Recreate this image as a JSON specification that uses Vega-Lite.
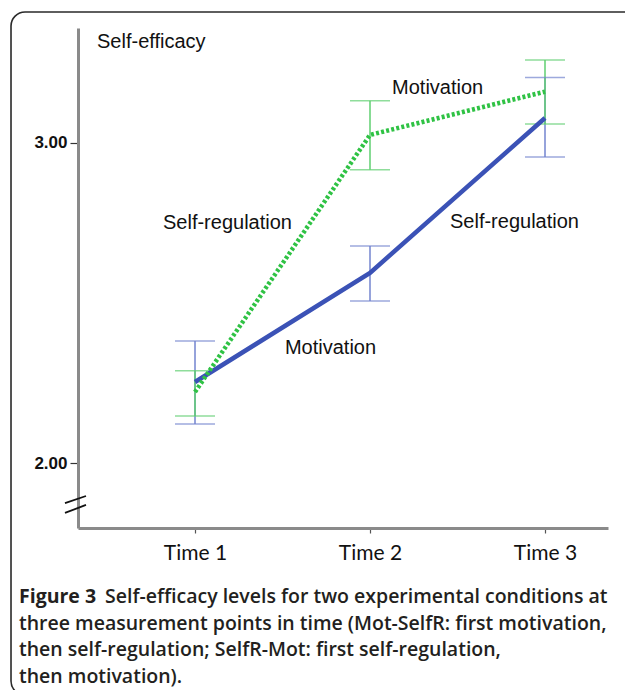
{
  "$schema": "https://vega.github.io/schema/vega-lite/v6.json",
  "width": 530,
  "height": 500,
  "autosize": {"type": "none"},
  "padding": {"left": 78, "top": 28, "right": 17, "bottom": 162},
  "background": "white",
  "config": {"view": {"stroke": null}, "font": "Liberation Sans"},
  "datasets": {
    "means": [
      {"group": "Mot-SelfR", "time": 1, "mean": 2.253, "lo": 2.122, "hi": 2.381},
      {"group": "Mot-SelfR", "time": 2, "mean": 2.594, "lo": 2.506, "hi": 2.678},
      {"group": "Mot-SelfR", "time": 3, "mean": 3.078, "lo": 2.956, "hi": 3.204},
      {"group": "SelfR-Mot", "time": 1, "mean": 2.222, "lo": 2.147, "hi": 2.288},
      {"group": "SelfR-Mot", "time": 2, "mean": 3.025, "lo": 2.916, "hi": 3.132},
      {"group": "SelfR-Mot", "time": 3, "mean": 3.16, "lo": 3.059, "hi": 3.259}
    ],
    "labels": [
      {"label": "Motivation", "time": 2.126, "value": 3.153},
      {"label": "Self-regulation", "time": 2.457, "value": 2.734},
      {"label": "Self-regulation", "time": 0.817, "value": 2.731},
      {"label": "Motivation", "time": 1.514, "value": 2.341},
      {"label": "Self-efficacy", "time": 0.44, "value": 3.297}
    ],
    "one": [{}]
  },
  "layer": [
    {
      "data": {"name": "one"},
      "mark": {"type": "rect", "filled": false, "stroke": "#2a2a2a", "strokeWidth": 1.6, "cornerRadius": 14, "clip": false},
      "encoding": {
        "x": {"datum": -0.0514, "type": "quantitative"},
        "x2": {"datum": 3.62},
        "y": {"datum": 3.409, "type": "quantitative"},
        "y2": {"datum": 1.275}
      }
    },
    {
      "data": {"name": "means"},
      "mark": {"type": "rule", "strokeWidth": 1.5},
      "encoding": {
        "x": {"field": "time", "type": "quantitative",
          "scale": {"domain": [0.3314, 3.36], "nice": false, "zero": false},
          "axis": {"values": [1, 2, 3], "labelExpr": "'Time ' + datum.value", "title": null, "grid": false,
            "domainColor": "#8a8a8a", "domainWidth": 3, "tickColor": "#555", "tickSize": 5, "tickWidth": 1.2,
            "labelFont": "Lato", "labelFontSize": 21, "labelColor": "#111", "labelPadding": 9, "labelBaseline": "top", "labelFlush": false}},
        "y": {"field": "lo", "type": "quantitative",
          "scale": {"domain": [1.797, 3.359], "nice": false, "zero": false},
          "axis": {"values": [2, 3], "format": ".2f", "title": null, "grid": false,
            "domainColor": "#8a8a8a", "domainWidth": 3, "tickColor": "#333", "tickSize": 8, "tickWidth": 1.2,
            "labelFont": "Liberation Sans", "labelFontSize": 17, "labelFontWeight": "bold", "labelColor": "#111", "labelPadding": 3}},
        "y2": {"field": "hi"},
        "color": {"field": "group", "type": "nominal", "legend": null,
          "scale": {"domain": ["Mot-SelfR", "SelfR-Mot"], "range": ["#7384cf", "#5fcf70"]}}
      }
    },
    {
      "data": {"name": "means"},
      "mark": {"type": "tick", "orient": "horizontal", "size": 40, "thickness": 1.5},
      "encoding": {
        "x": {"field": "time", "type": "quantitative"},
        "y": {"field": "lo", "type": "quantitative"},
        "color": {"field": "group", "type": "nominal", "legend": null,
          "scale": {"domain": ["Mot-SelfR", "SelfR-Mot"], "range": ["#7384cf", "#5fcf70"]}}
      }
    },
    {
      "data": {"name": "means"},
      "mark": {"type": "tick", "orient": "horizontal", "size": 40, "thickness": 1.5},
      "encoding": {
        "x": {"field": "time", "type": "quantitative"},
        "y": {"field": "hi", "type": "quantitative"},
        "color": {"field": "group", "type": "nominal", "legend": null,
          "scale": {"domain": ["Mot-SelfR", "SelfR-Mot"], "range": ["#7384cf", "#5fcf70"]}}
      }
    },
    {
      "data": {"name": "means"},
      "transform": [{"filter": "datum.group === 'Mot-SelfR'"}],
      "mark": {"type": "line", "color": "#3b52b6", "strokeWidth": 4.5, "strokeCap": "butt"},
      "encoding": {
        "x": {"field": "time", "type": "quantitative"},
        "y": {"field": "mean", "type": "quantitative"}
      }
    },
    {
      "data": {"name": "means"},
      "transform": [{"filter": "datum.group === 'SelfR-Mot'"}],
      "mark": {"type": "line", "color": "#2fc244", "strokeWidth": 4.5, "strokeDash": [3, 2.2], "strokeCap": "butt"},
      "encoding": {
        "x": {"field": "time", "type": "quantitative"},
        "y": {"field": "mean", "type": "quantitative"}
      }
    },
    {
      "data": {"name": "labels"},
      "mark": {"type": "text", "align": "left", "baseline": "alphabetic", "font": "Liberation Sans", "fontSize": 20, "color": "#111"},
      "encoding": {
        "x": {"field": "time", "type": "quantitative"},
        "y": {"field": "value", "type": "quantitative"},
        "text": {"field": "label"}
      }
    },
    {
      "data": {"name": "one"},
      "mark": {"type": "rule", "color": "#111", "strokeWidth": 1.8, "clip": false},
      "encoding": {
        "x": {"datum": 0.257, "type": "quantitative"},
        "x2": {"datum": 0.377},
        "y": {"datum": 1.875, "type": "quantitative"},
        "y2": {"datum": 1.897}
      }
    },
    {
      "data": {"name": "one"},
      "mark": {"type": "rule", "color": "#111", "strokeWidth": 1.8, "clip": false},
      "encoding": {
        "x": {"datum": 0.257, "type": "quantitative"},
        "x2": {"datum": 0.377},
        "y": {"datum": 1.844, "type": "quantitative"},
        "y2": {"datum": 1.869}
      }
    },
    {
      "data": {"name": "one"},
      "mark": {"type": "text", "align": "left", "baseline": "alphabetic", "font": "Open Sans", "fontSize": 19.5, "fontWeight": "bold", "color": "#231f20", "clip": false},
      "encoding": {
        "x": {"datum": -0.0057, "type": "quantitative"},
        "y": {"datum": 1.5625, "type": "quantitative"},
        "text": {"value": "Figure 3"}
      }
    },
    {
      "data": {"name": "one"},
      "mark": {"type": "text", "align": "left", "baseline": "alphabetic", "font": "Open Sans", "fontSize": 19.5, "fontWeight": 600, "color": "#231f20", "clip": false},
      "encoding": {
        "x": {"datum": 0.4857, "type": "quantitative"},
        "y": {"datum": 1.5625, "type": "quantitative"},
        "text": {"value": "Self-efficacy levels for two experimental conditions at"}
      }
    },
    {
      "data": {"name": "one"},
      "mark": {"type": "text", "align": "left", "baseline": "alphabetic", "font": "Open Sans", "fontSize": 19.5, "fontWeight": 600, "color": "#231f20", "clip": false, "lineBreak": "\n", "lineHeight": 26.5},
      "encoding": {
        "x": {"datum": -0.0057, "type": "quantitative"},
        "y": {"datum": 1.4797, "type": "quantitative"},
        "text": {"value": "three measurement points in time (Mot-SelfR: first motivation,\nthen self-regulation; SelfR-Mot: first self-regulation,\nthen motivation)."}
      }
    }
  ]
}
